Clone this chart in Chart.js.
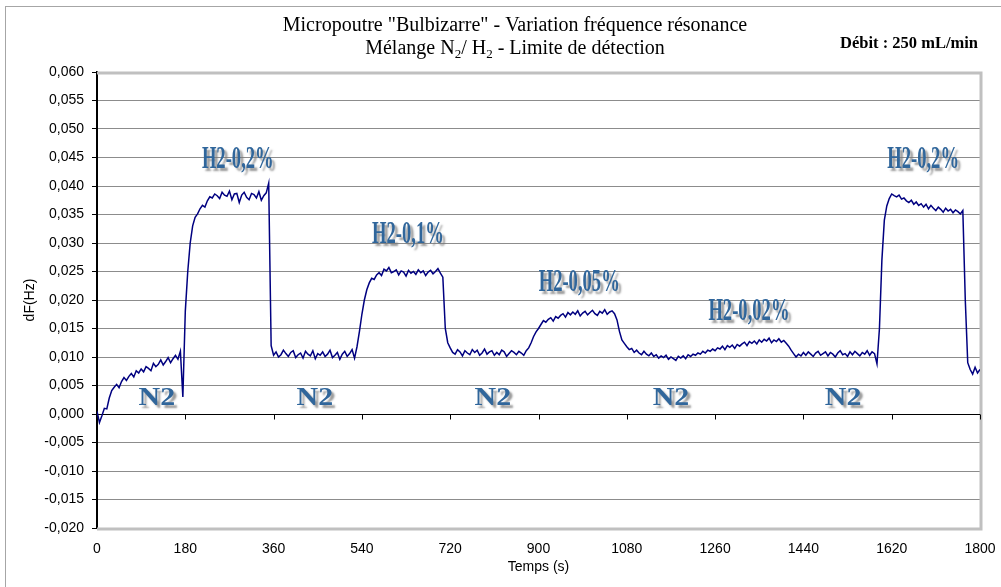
<!DOCTYPE html>
<html lang="fr">
<head>
<meta charset="utf-8">
<title>Micropoutre Bulbizarre - variation de fréquence</title>
<script src="https://cdn.jsdelivr.net/npm/chart.js@4.4.1/dist/chart.umd.min.js"></script>
<style>
  html, body { margin: 0; padding: 0; background: #fff; }
</style>
</head>
<body>
<canvas id="graphe" width="1001" height="587"></canvas>
<script>
// Acquisition : un point toutes les 5 s, de 0 à 1800 s
const PAS_S = 5;

// dF (Hz), une ligne = 180 s
const dF_Hz = [
    0.0005,-0.0015,-0.0003,0.0010,0.0009,0.0028,0.0041,0.0047,0.0052,0.0046,0.0057,0.0064,0.0059,0.0066,0.0071,0.0065,0.0076,0.0072,0.0079,0.0074,0.0083,0.0080,0.0076,0.0089,0.0083,0.0087,0.0095,0.0086,0.0092,0.0099,0.0090,0.0097,0.0103,0.0096,0.0110,0.0030,
    0.0180,0.0250,0.0300,0.0330,0.0345,0.0351,0.0360,0.0366,0.0363,0.0374,0.0381,0.0379,0.0386,0.0383,0.0378,0.0389,0.0384,0.0382,0.0391,0.0376,0.0386,0.0387,0.0371,0.0384,0.0389,0.0380,0.0376,0.0387,0.0385,0.0379,0.0390,0.0375,0.0383,0.0388,0.0405,0.0120,
    0.0103,0.0109,0.0100,0.0104,0.0112,0.0106,0.0101,0.0108,0.0111,0.0099,0.0104,0.0107,0.0098,0.0110,0.0105,0.0102,0.0111,0.0097,0.0106,0.0103,0.0109,0.0101,0.0105,0.0112,0.0099,0.0103,0.0108,0.0096,0.0105,0.0110,0.0101,0.0106,0.0113,0.0098,0.0118,0.0145,
    0.0175,0.0200,0.0218,0.0230,0.0238,0.0236,0.0244,0.0248,0.0243,0.0254,0.0251,0.0257,0.0248,0.0250,0.0253,0.0244,0.0251,0.0249,0.0242,0.0252,0.0247,0.0250,0.0245,0.0253,0.0248,0.0251,0.0243,0.0249,0.0252,0.0246,0.0250,0.0255,0.0247,0.0240,0.0150,0.0125,
    0.0116,0.0108,0.0105,0.0113,0.0109,0.0102,0.0111,0.0107,0.0104,0.0113,0.0108,0.0112,0.0103,0.0107,0.0114,0.0105,0.0109,0.0111,0.0103,0.0108,0.0104,0.0112,0.0109,0.0101,0.0106,0.0111,0.0108,0.0104,0.0110,0.0107,0.0103,0.0111,0.0116,0.0125,0.0136,0.0144,
    0.0150,0.0157,0.0164,0.0161,0.0166,0.0169,0.0163,0.0171,0.0168,0.0173,0.0176,0.0170,0.0178,0.0174,0.0179,0.0175,0.0181,0.0172,0.0177,0.0180,0.0174,0.0178,0.0182,0.0176,0.0173,0.0180,0.0177,0.0183,0.0175,0.0179,0.0181,0.0176,0.0165,0.0145,0.0130,0.0124,
    0.0118,0.0113,0.0115,0.0108,0.0112,0.0107,0.0104,0.0110,0.0105,0.0102,0.0107,0.0101,0.0104,0.0098,0.0102,0.0099,0.0103,0.0096,0.0100,0.0097,0.0094,0.0101,0.0098,0.0102,0.0097,0.0104,0.0101,0.0105,0.0103,0.0107,0.0105,0.0110,0.0107,0.0112,0.0110,0.0114,
    0.0111,0.0116,0.0114,0.0119,0.0113,0.0120,0.0117,0.0121,0.0115,0.0122,0.0119,0.0123,0.0126,0.0120,0.0127,0.0124,0.0128,0.0123,0.0130,0.0126,0.0131,0.0128,0.0133,0.0125,0.0130,0.0127,0.0132,0.0126,0.0129,0.0124,0.0119,0.0112,0.0106,0.0100,0.0105,0.0102,
    0.0108,0.0103,0.0109,0.0105,0.0101,0.0107,0.0110,0.0103,0.0106,0.0109,0.0102,0.0108,0.0105,0.0100,0.0107,0.0111,0.0104,0.0106,0.0101,0.0109,0.0104,0.0110,0.0106,0.0102,0.0108,0.0105,0.0111,0.0103,0.0109,0.0106,0.0088,0.0150,0.0270,0.0340,0.0365,0.0378,
    0.0386,0.0383,0.0381,0.0384,0.0377,0.0379,0.0374,0.0371,0.0375,0.0368,0.0372,0.0366,0.0369,0.0363,0.0368,0.0360,0.0366,0.0361,0.0357,0.0363,0.0359,0.0354,0.0361,0.0356,0.0359,0.0353,0.0358,0.0355,0.0351,0.0357,0.0200,0.0090,0.0078,0.0070,0.0082,0.0072,
    0.0078
];

// Graduations
const ticksTemps = [0, 180, 360, 540, 720, 900, 1080, 1260, 1440, 1620, 1800];
const dFMin = -0.020, dFMax = 0.060, dFPas = 0.005;

// Etiquettes des phases de gaz
const etiquettesH2 = ['H2-0,2%', 'H2-0,1%', 'H2-0,05%', 'H2-0,02%', 'H2-0,2%'];
const etiquettesN2 = ['N2', 'N2', 'N2', 'N2', 'N2'];

// ancrage des étiquettes (s, Hz)
const posH2 = [[287, 0.0432], [634, 0.0300], [983, 0.0216], [1329, 0.0165], [1684, 0.0432]];
const posN2 = [[122, 0.0016], [444, 0.0016], [807, 0.0016], [1170, 0.0016], [1521, 0.0016]];

const points = dF_Hz.map((v, i) => ({ x: i * PAS_S, y: v }));

function formatVirgule(v) {
    return (Math.round(v * 1000) / 1000).toFixed(3).replace('.', ',');
}

function texteWordArt(ctx, txt, x, y, taille, echelleX) {
    ctx.save();
    ctx.translate(x, y);
    ctx.scale(echelleX, 1);
    ctx.font = 'bold ' + taille + 'px "Liberation Serif"';
    ctx.textAlign = 'center';
    ctx.textBaseline = 'alphabetic';
    ctx.shadowColor = 'rgba(120,120,120,0.75)';
    ctx.shadowOffsetX = 3;
    ctx.shadowOffsetY = 3;
    ctx.shadowBlur = 2;
    ctx.fillStyle = '#30669b';
    ctx.fillText(txt, 0, 0);
    ctx.restore();
}

// texte avec indices (N2, H2)
function texteIndice(ctx, morceaux, cx, y, taille) {
    const normal = taille + 'px "Liberation Serif"';
    const petit = Math.round(taille * 0.65) + 'px "Liberation Serif"';
    let total = 0;
    morceaux.forEach(m => {
        ctx.font = m.sub ? petit : normal;
        total += ctx.measureText(m.t).width;
    });
    let x = cx - total / 2;
    ctx.textAlign = 'left';
    ctx.textBaseline = 'alphabetic';
    morceaux.forEach(m => {
        ctx.font = m.sub ? petit : normal;
        ctx.fillText(m.t, x, m.sub ? y + 4 : y);
        x += ctx.measureText(m.t).width;
    });
}

const decor = {
    id: 'decor',
    beforeDraw(chart) {
        const ctx = chart.ctx;
        ctx.save();
        ctx.fillStyle = '#fff';
        ctx.fillRect(0, 0, chart.width, chart.height);
        ctx.strokeStyle = '#a6a6a6';
        ctx.lineWidth = 1;
        ctx.strokeRect(5.5, 6.5, 1000, 590);
        ctx.restore();
    },
    beforeDatasetsDraw(chart) {
        const ctx = chart.ctx;
        const a = chart.chartArea;
        const x = chart.scales.x, y = chart.scales.y;
        const y0 = Math.round(y.getPixelForValue(0)) + 0.5;
        ctx.save();
        // cadre gris de la zone de traçage
        ctx.strokeStyle = '#c0c0c0';
        ctx.lineWidth = 3;
        ctx.beginPath();
        ctx.moveTo(a.left, a.top + 1);
        ctx.lineTo(a.right + 1, a.top + 1);
        ctx.lineTo(a.right + 1, a.bottom + 1);
        ctx.lineTo(a.left, a.bottom + 1);
        ctx.stroke();
        // axe des temps à dF = 0
        ctx.strokeStyle = '#000';
        ctx.lineWidth = 1;
        ctx.beginPath();
        ctx.moveTo(a.left, y0);
        ctx.lineTo(a.right, y0);
        ticksTemps.forEach(t => {
            const px = Math.round(x.getPixelForValue(t)) + 0.5;
            ctx.moveTo(px, y0);
            ctx.lineTo(px, y0 + 5);
        });
        ctx.stroke();
        ctx.restore();
    },
    afterDraw(chart) {
        const ctx = chart.ctx;
        const x = chart.scales.x, y = chart.scales.y;
        ctx.save();
        ctx.fillStyle = '#000';
        ctx.font = '20px "Liberation Serif"';
        ctx.textAlign = 'center';
        ctx.textBaseline = 'alphabetic';
        ctx.fillText('Micropoutre "Bulbizarre" - Variation fréquence résonance', 515, 31);
        texteIndice(ctx, [
            { t: 'Mélange N' }, { t: '2', sub: true }, { t: '/ H' }, { t: '2', sub: true },
            { t: ' - Limite de détection' }
        ], 515, 54, 20);
        ctx.font = 'bold 16.5px "Liberation Serif"';
        ctx.textAlign = 'right';
        ctx.fillText('Débit : 250 mL/min', 978, 48);
        ctx.restore();

        etiquettesH2.forEach((txt, i) => {
            texteWordArt(ctx, txt, x.getPixelForValue(posH2[i][0]), y.getPixelForValue(posH2[i][1]), 31, 0.6);
        });
        etiquettesN2.forEach((txt, i) => {
            texteWordArt(ctx, txt, x.getPixelForValue(posN2[i][0]), y.getPixelForValue(posN2[i][1]), 26, 1.15);
        });
    }
};

const police = { family: '"Liberation Sans", Arial, sans-serif', size: 14 };

new Chart(document.getElementById('graphe'), {
    type: 'line',
    data: {
        datasets: [{
            label: 'dF',
            data: points,
            borderColor: '#000080',
            borderWidth: 1.5,
            pointRadius: 0,
            tension: 0,
            fill: false
        }]
    },
    options: {
        responsive: false,
        animation: false,
        devicePixelRatio: 1,
        layout: { padding: { left: 0, top: 72, right: 21, bottom: 0 } },
        plugins: {
            legend: { display: false },
            tooltip: { enabled: false }
        },
        scales: {
            x: {
                type: 'linear',
                min: 0,
                max: 1800,
                afterFit(scale) {
                    scale.height = 59;
                    scale.paddingLeft = 0;
                    scale.paddingRight = 0;
                },
                afterBuildTicks(scale) { scale.ticks = ticksTemps.map(v => ({ value: v })); },
                grid: { display: false, drawTicks: false },
                border: { display: false },
                ticks: { color: '#000', font: police, padding: 13, maxRotation: 0, autoSkip: false, callback: v => String(v) },
                title: { display: true, text: 'Temps (s)', color: '#000', font: police, padding: { top: 0, bottom: 11 } }
            },
            y: {
                min: dFMin,
                max: dFMax,
                afterFit(scale) { scale.width = 97; },
                ticks: {
                    stepSize: dFPas,
                    color: '#000',
                    font: police,
                    padding: 8,
                    callback: v => formatVirgule(v)
                },
                grid: {
                    color: c => (Math.abs(c.tick.value) < 1e-9 ? 'rgba(0,0,0,0)' : '#8c8c8c'),
                    tickColor: '#000',
                    tickLength: 5,
                    lineWidth: 1
                },
                border: { display: true, color: '#000', width: 2 },
                title: { display: true, text: 'dF(Hz)', color: '#000', font: police, padding: { top: 22, bottom: 0 } }
            }
        }
    },
    plugins: [decor]
});
</script>
</body>
</html>
